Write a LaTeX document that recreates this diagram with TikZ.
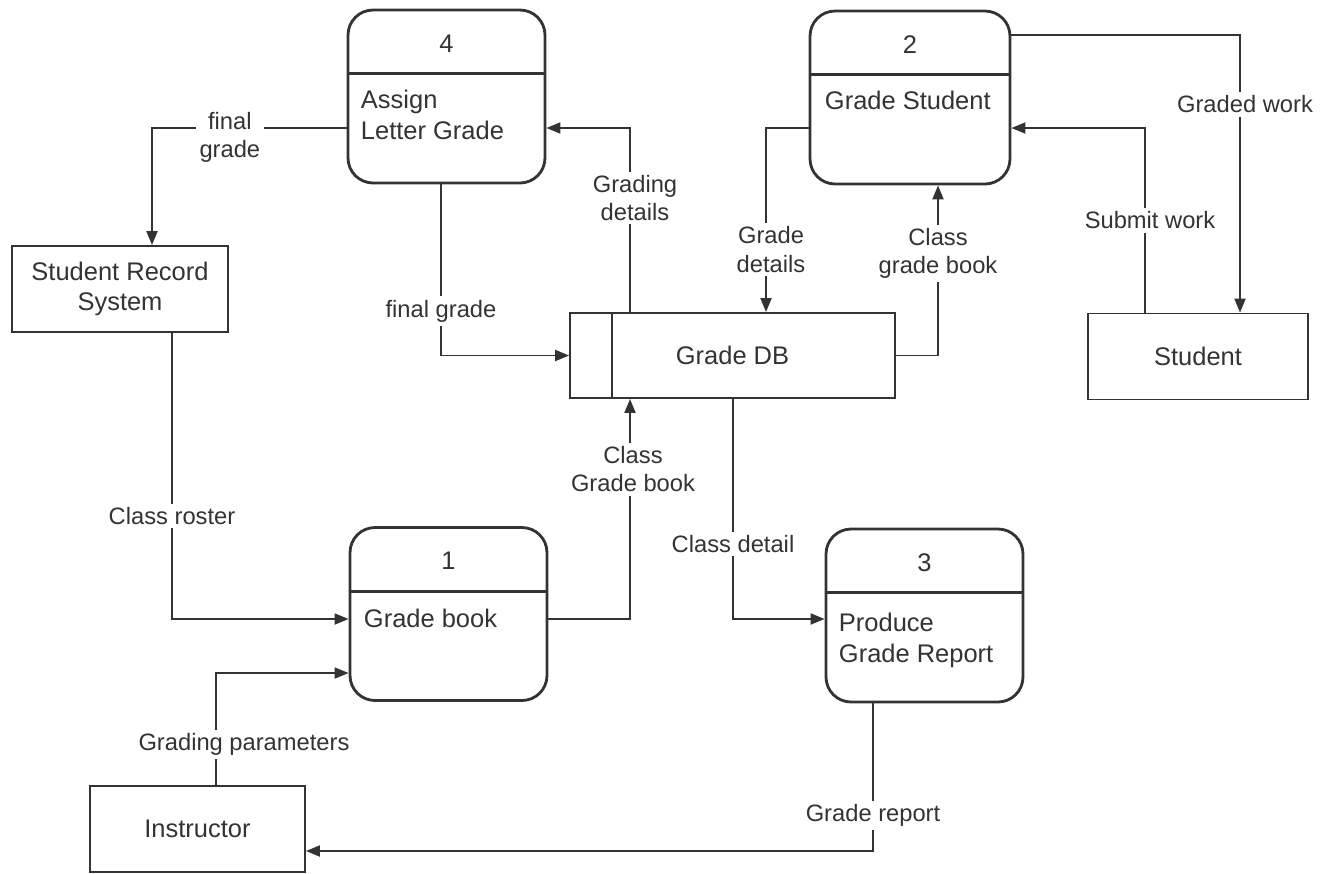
\documentclass[tikz,border=0pt]{standalone}
\usepackage{fontspec}
\setmainfont{Liberation Sans}
\usetikzlibrary{positioning,arrows.meta}
\tikzset{
procbox/.style = {draw, rounded corners=0.5cm, line width=1.6pt, minimum width=#1, minimum height=3.46cm},
procbox/.default = 3.94cm, % width of a process box
divider/.style = {line width=1.6pt},
procnum/.style = {font=\fontsize{14.5}{17}\selectfont},
proctxt/.style = {anchor=north west, inner sep=0pt, align=left, font=\fontsize{14.5}{17.5}\selectfont},
entity/.style = {draw, line width=1.1pt, minimum width=#1, minimum height=1.72cm, align=center, font=\fontsize{14.5}{17}\selectfont},
entity/.default = 4.3cm,
flow/.style = {line width=1.1pt, -{Triangle[length=0.28cm,width=0.22cm]}},
lbl/.style = {fill=white, inner sep=2pt, align=center, font=\fontsize{13.5}{16}\selectfont}
}
\begin{document}
\begin{tikzpicture}[x=0.02cm, y=-0.02cm, color=black!80]
  \useasboundingbox (0,0) rectangle (1337,873);

  % processes
  \node [procbox] (p4) at (446.5,96.5) {};
  \node [procbox=4cm] (p2) at (910,97.5) {};
  \node [procbox] (p1) at (448.5,614) {};
  \node [procbox] (p3) at (924.5,615.5) {};
  \foreach \p/\n in {p4/4, p2/2, p1/1, p3/3}
  {
    \draw [divider] ([yshift=-1.3cm]\p.north west) -- ([yshift=-1.3cm]\p.north east);
    \node [procnum] (\p num) at ([yshift=-0.7cm]\p.north) {\n};
  }
  \node [proctxt] (p4txt) at ([xshift=0.28cm,yshift=-1.62cm]p4.north west) {Assign\\Letter Grade};
  \node [proctxt] (p2txt) at ([xshift=0.32cm,yshift=-1.62cm]p2.north west) {Grade Student};
  \node [proctxt] (p1txt) at ([xshift=0.3cm,yshift=-1.66cm]p1.north west) {Grade book};
  \node [proctxt] (p3txt) at ([xshift=0.28cm,yshift=-1.7cm]p3.north west) {Produce\\Grade Report};

  % external entities
  \node [entity=4.32cm] (srs) at (120,289) {Student Record\\System};
  \node [entity=4.4cm] (student) at (1198,356.5) {Student};
  \node [entity] (instr) at (197.5,829) {Instructor};

  % data store
  \node [entity=6.5cm, minimum height=1.7cm] (gdb) at (732.5,355.5) {Grade DB};
  \draw [line width=1.1pt] ([xshift=0.86cm]gdb.north west) -- ([xshift=0.86cm]gdb.south west);

  % data flows
  \draw [flow] (p4.west |- 0,128) -| node [lbl, pos=0.3, yshift=-0.18cm] {final\\grade} (srs.north -| 152,0);
  \draw [flow] (p4.south -| 441,0) |- node [lbl, pos=0.37] {final grade} (gdb.west);
  \draw [flow] (gdb.north -| 630,0) |- node [lbl, pos=0.31, xshift=0.1cm] {Grading\\details} (p4.east |- 0,128);
  \draw [flow] (p2.west |- 0,128) -| node [lbl, pos=0.83, xshift=0.1cm] {Grade\\details} (gdb.north -| 766,0);
  \draw [flow] (gdb.east) -| node [lbl, pos=0.8] {Class\\grade book} (p2.south -| 938,0);
  \draw [flow] (p2.east |- 0,35) -| node [lbl, pos=0.625, xshift=0.1cm] {Graded work} (student.north -| 1240,0);
  \draw [flow] (student.north -| 1145,0) |- node [lbl, pos=0.25, xshift=0.1cm] {Submit work} (p2.east |- 0,128);
  \draw [flow] (srs.south -| 172,0) |- node [lbl, pos=0.32] {Class roster} (p1.west |- 0,619);
  \draw [flow] (p1.east |- 0,619) -| node [lbl, pos=0.84, xshift=0.06cm] {Class\\Grade book} (gdb.south -| 630,0);
  \draw [flow] (gdb.south -| 733,0) |- node [lbl, pos=0.33] {Class detail} (p3.west |- 0,619);
  \draw [flow] (instr.north -| 216,0) |- node [lbl, pos=0.18, xshift=0.56cm] {Grading parameters} (p1.west |- 0,673);
  \draw [flow] (p3.south -| 873,0) |- node [lbl, pos=0.38] {Grade report} (instr.east |- 0,851);
\end{tikzpicture}
\end{document}
